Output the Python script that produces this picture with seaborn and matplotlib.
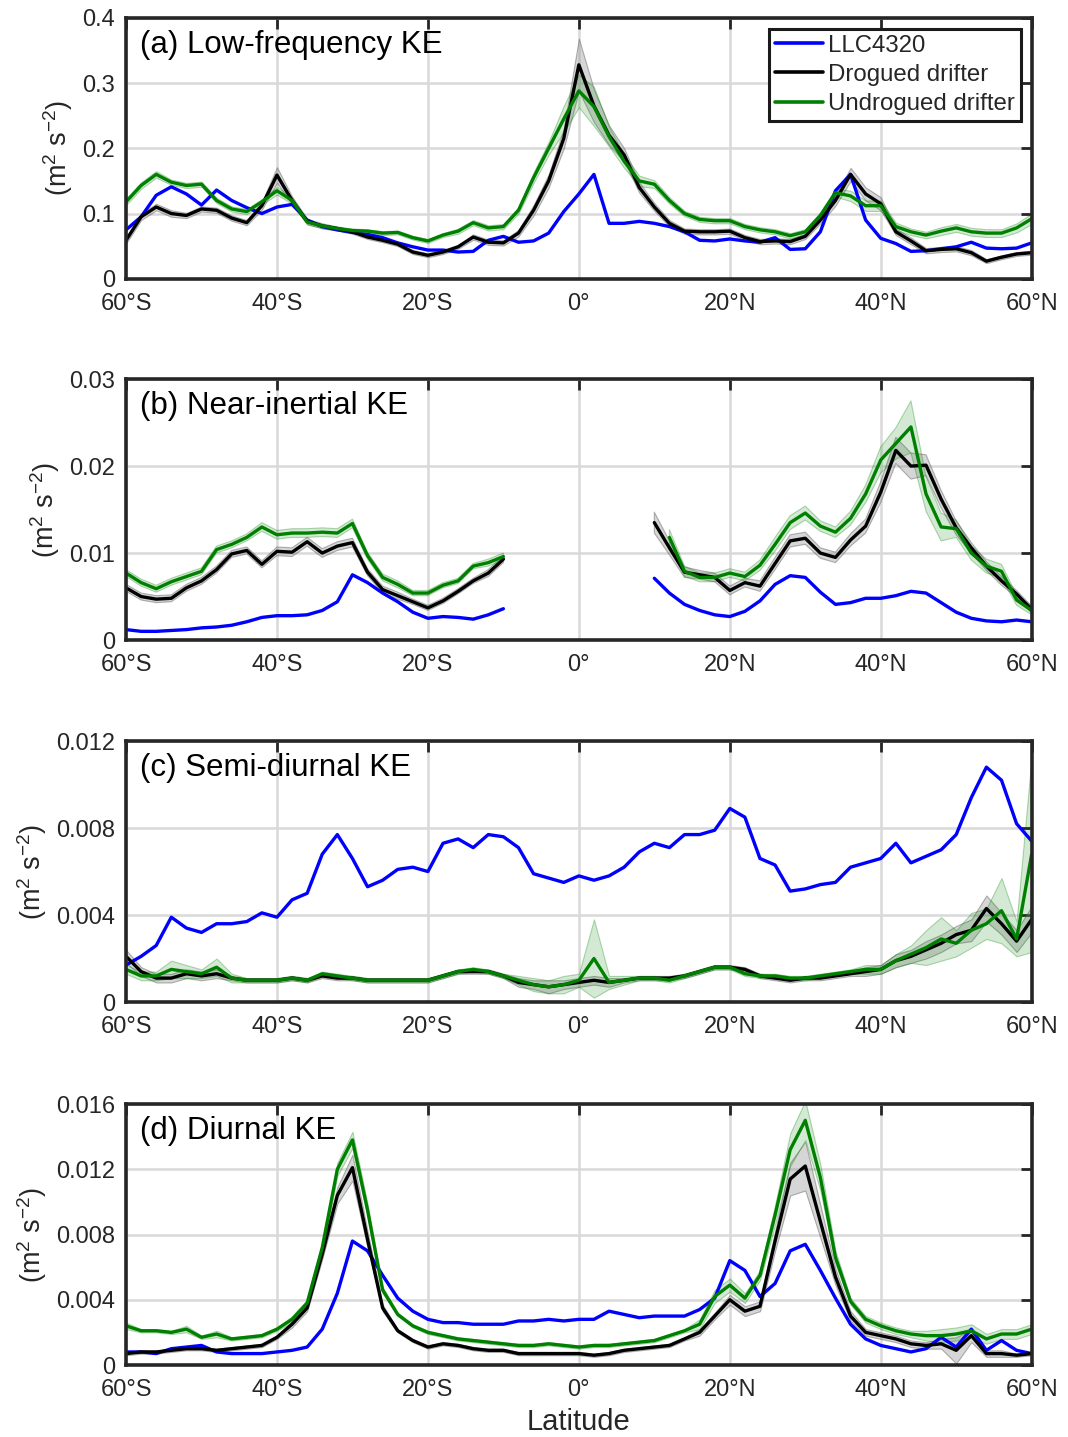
import numpy as np
import pandas as pd
import matplotlib
matplotlib.use('Agg')
import matplotlib.pyplot as plt
import seaborn as sns

nan = np.nan
lat = np.arange(-60, 61, 2)

# (a) low-frequency KE, one value every 2 degrees from 60S to 60N
lf_llc = [0.075, 0.095, 0.128, 0.141, 0.130, 0.113, 0.136, 0.120, 0.109, 0.100,
          0.110, 0.114, 0.090, 0.080, 0.075, 0.071, 0.068, 0.063, 0.055, 0.049,
          0.044, 0.044, 0.041, 0.042, 0.059, 0.065, 0.056, 0.058, 0.070, 0.103,
          0.130, 0.160, 0.085, 0.085, 0.088, 0.085, 0.080, 0.072, 0.059, 0.058,
          0.061, 0.058, 0.056, 0.063, 0.045, 0.046, 0.072, 0.135, 0.160, 0.090,
          0.062, 0.054, 0.042, 0.043, 0.046, 0.049, 0.056, 0.047, 0.046, 0.047,
          0.055]
lf_drog = [0.059, 0.095, 0.110, 0.100, 0.097, 0.107, 0.105, 0.093, 0.086, 0.112,
           0.159, 0.120, 0.088, 0.081, 0.077, 0.072, 0.064, 0.059, 0.053, 0.041,
           0.036, 0.041, 0.049, 0.064, 0.056, 0.055, 0.070, 0.105, 0.150, 0.215,
           0.328, 0.265, 0.220, 0.190, 0.140, 0.110, 0.085, 0.073, 0.072, 0.072,
           0.073, 0.063, 0.057, 0.058, 0.057, 0.065, 0.090, 0.120, 0.160, 0.130,
           0.115, 0.072, 0.058, 0.043, 0.045, 0.046, 0.040, 0.027, 0.033, 0.038,
           0.040]
lf_undrog = [0.118, 0.143, 0.160, 0.148, 0.143, 0.145, 0.120, 0.107, 0.103, 0.118,
             0.135, 0.120, 0.087, 0.081, 0.077, 0.074, 0.073, 0.070, 0.071, 0.063,
             0.058, 0.067, 0.073, 0.086, 0.078, 0.080, 0.105, 0.155, 0.200, 0.245,
             0.288, 0.264, 0.218, 0.180, 0.150, 0.145, 0.120, 0.100, 0.091, 0.089,
             0.089, 0.080, 0.075, 0.072, 0.066, 0.072, 0.097, 0.132, 0.127, 0.112,
             0.112, 0.080, 0.072, 0.067, 0.073, 0.078, 0.072, 0.070, 0.070, 0.078,
             0.092]
lf_drog_err = [0.005, 0.005, 0.005, 0.005, 0.004, 0.004, 0.004, 0.004, 0.004, 0.006,
               0.012, 0.006, 0.004, 0.004, 0.003, 0.003, 0.003, 0.003, 0.003, 0.003,
               0.003, 0.003, 0.003, 0.004, 0.004, 0.004, 0.005, 0.008, 0.010, 0.015,
               0.040, 0.025, 0.015, 0.010, 0.008, 0.006, 0.005, 0.004, 0.004, 0.004,
               0.004, 0.004, 0.004, 0.004, 0.004, 0.004, 0.005, 0.008, 0.010, 0.010,
               0.010, 0.005, 0.005, 0.004, 0.004, 0.004, 0.004, 0.003, 0.003, 0.003,
               0.003]
lf_undrog_err = [0.005, 0.005, 0.005, 0.004, 0.004, 0.004, 0.004, 0.004, 0.004, 0.004,
                 0.006, 0.005, 0.004, 0.003, 0.003, 0.003, 0.003, 0.003, 0.003, 0.003,
                 0.003, 0.003, 0.004, 0.004, 0.004, 0.004, 0.005, 0.008, 0.010, 0.020,
                 0.025, 0.030, 0.015, 0.010, 0.008, 0.006, 0.005, 0.004, 0.004, 0.004,
                 0.004, 0.004, 0.004, 0.004, 0.004, 0.004, 0.005, 0.006, 0.008, 0.008,
                 0.008, 0.006, 0.005, 0.005, 0.006, 0.006, 0.006, 0.006, 0.006, 0.007,
                 0.008]

# (b) near-inertial KE (no values near the equator)
ni_llc = [0.0012, 0.0010, 0.0010, 0.0011, 0.0012, 0.0014, 0.0015, 0.0017, 0.0021, 0.0026,
          0.0028, 0.0028, 0.0029, 0.0034, 0.0044, 0.0075, 0.0066, 0.0054, 0.0044, 0.0032,
          0.0025, 0.0027, 0.0026, 0.0024, 0.0029, 0.0036, nan, nan, nan, nan,
          nan, nan, nan, nan, nan, 0.0071, 0.0054, 0.0041, 0.0034, 0.0029,
          0.0027, 0.0033, 0.0045, 0.0064, 0.0074, 0.0072, 0.0055, 0.0041, 0.0043, 0.0048,
          0.0048, 0.0051, 0.0056, 0.0054, 0.0043, 0.0032, 0.0025, 0.0022, 0.0021, 0.0023,
          0.0021]
ni_drog = [0.0060, 0.0050, 0.0047, 0.0048, 0.0060, 0.0068, 0.0081, 0.0099, 0.0103, 0.0087,
           0.0102, 0.0101, 0.0113, 0.0100, 0.0108, 0.0112, 0.0078, 0.0058, 0.0051, 0.0044,
           0.0037, 0.0045, 0.0056, 0.0068, 0.0077, 0.0093, nan, nan, nan, nan,
           nan, nan, nan, nan, nan, 0.0135, 0.0106, 0.0078, 0.0075, 0.0072,
           0.0057, 0.0066, 0.0062, 0.0088, 0.0114, 0.0117, 0.0100, 0.0095, 0.0115, 0.0131,
           0.0170, 0.0218, 0.0200, 0.0201, 0.0162, 0.0129, 0.0106, 0.0085, 0.0068, 0.0053,
           0.0035]
ni_undrog = [0.0077, 0.0066, 0.0059, 0.0067, 0.0073, 0.0079, 0.0104, 0.0110, 0.0118, 0.0130,
             0.0121, 0.0123, 0.0123, 0.0124, 0.0123, 0.0134, 0.0097, 0.0072, 0.0064, 0.0054,
             0.0054, 0.0063, 0.0068, 0.0085, 0.0089, 0.0096, nan, nan, nan, nan,
             nan, nan, nan, nan, nan, nan, 0.0118, 0.0079, 0.0072, 0.0072,
             0.0077, 0.0073, 0.0086, 0.0110, 0.0135, 0.0146, 0.0131, 0.0124, 0.0140, 0.0168,
             0.0207, 0.0226, 0.0245, 0.0168, 0.0130, 0.0128, 0.0100, 0.0085, 0.0079, 0.0046,
             0.0034]
ni_drog_err = [0.0004, 0.0004, 0.0004, 0.0004, 0.0004, 0.0004, 0.0004, 0.0004, 0.0004, 0.0004,
               0.0005, 0.0005, 0.0005, 0.0005, 0.0005, 0.0005, 0.0004, 0.0004, 0.0004, 0.0003,
               0.0003, 0.0003, 0.0003, 0.0003, 0.0004, 0.0004, nan, nan, nan, nan,
               nan, nan, nan, nan, nan, 0.0012, 0.0008, 0.0006, 0.0005, 0.0005,
               0.0005, 0.0005, 0.0006, 0.0007, 0.0007, 0.0007, 0.0006, 0.0006, 0.0007, 0.0008,
               0.0012, 0.0015, 0.0015, 0.0012, 0.0010, 0.0008, 0.0006, 0.0005, 0.0005, 0.0004,
               0.0004]
ni_undrog_err = [0.0004, 0.0004, 0.0004, 0.0004, 0.0004, 0.0004, 0.0004, 0.0004, 0.0004, 0.0005,
                 0.0005, 0.0005, 0.0005, 0.0005, 0.0005, 0.0005, 0.0004, 0.0004, 0.0004, 0.0003,
                 0.0003, 0.0003, 0.0003, 0.0003, 0.0004, 0.0004, nan, nan, nan, nan,
                 nan, nan, nan, nan, nan, nan, 0.0009, 0.0006, 0.0005, 0.0005,
                 0.0005, 0.0005, 0.0006, 0.0008, 0.0008, 0.0008, 0.0006, 0.0006, 0.0008, 0.0010,
                 0.0015, 0.0018, 0.0030, 0.0020, 0.0016, 0.0010, 0.0008, 0.0008, 0.0008, 0.0006,
                 0.0005]

# (c) semi-diurnal KE
sd_llc = [0.0017, 0.0021, 0.0026, 0.0039, 0.0034, 0.0032, 0.0036, 0.0036, 0.0037, 0.0041,
          0.0039, 0.0047, 0.0050, 0.0068, 0.0077, 0.0066, 0.0053, 0.0056, 0.0061, 0.0062,
          0.0060, 0.0073, 0.0075, 0.0071, 0.0077, 0.0076, 0.0071, 0.0059, 0.0057, 0.0055,
          0.0058, 0.0056, 0.0058, 0.0062, 0.0069, 0.0073, 0.0071, 0.0077, 0.0077, 0.0079,
          0.0089, 0.0085, 0.0066, 0.0063, 0.0051, 0.0052, 0.0054, 0.0055, 0.0062, 0.0064,
          0.0066, 0.0073, 0.0064, 0.0067, 0.0070, 0.0077, 0.0094, 0.0108, 0.0102, 0.0082,
          0.0074]
sd_drog = [0.0021, 0.0014, 0.0011, 0.0011, 0.0013, 0.0012, 0.0013, 0.0011, 0.0010, 0.0010,
           0.0010, 0.0011, 0.0010, 0.0012, 0.0011, 0.0011, 0.0010, 0.0010, 0.0010, 0.0010,
           0.0010, 0.0012, 0.0014, 0.0014, 0.0014, 0.0012, 0.0009, 0.0008, 0.0007, 0.0008,
           0.0009, 0.0010, 0.0009, 0.0010, 0.0011, 0.0011, 0.0011, 0.0012, 0.0014, 0.0016,
           0.0016, 0.0015, 0.0012, 0.0011, 0.0010, 0.0011, 0.0011, 0.0012, 0.0013, 0.0014,
           0.0015, 0.0019, 0.0021, 0.0024, 0.0027, 0.0031, 0.0033, 0.0043, 0.0036, 0.0028,
           0.0038]
sd_undrog = [0.0015, 0.0012, 0.0012, 0.0015, 0.0014, 0.0013, 0.0016, 0.0011, 0.0010, 0.0010,
             0.0010, 0.0011, 0.0010, 0.0013, 0.0012, 0.0011, 0.0010, 0.0010, 0.0010, 0.0010,
             0.0010, 0.0012, 0.0014, 0.0015, 0.0014, 0.0012, 0.0010, 0.0008, 0.0007, 0.0008,
             0.0010, 0.0020, 0.0009, 0.0010, 0.0011, 0.0011, 0.0010, 0.0012, 0.0014, 0.0016,
             0.0016, 0.0013, 0.0012, 0.0012, 0.0011, 0.0011, 0.0012, 0.0013, 0.0014, 0.0015,
             0.0015, 0.0019, 0.0022, 0.0025, 0.0029, 0.0027, 0.0033, 0.0036, 0.0042, 0.0029,
             0.0068]
sd_drog_err = [0.0003, 0.0002, 0.0002, 0.0002, 0.0002, 0.0002, 0.0002, 0.0001, 0.0001, 0.0001,
               0.0001, 0.0001, 0.0001, 0.0001, 0.0001, 0.0001, 0.0001, 0.0001, 0.0001, 0.0001,
               0.0001, 0.0001, 0.0001, 0.0001, 0.0001, 0.0001, 0.0002, 0.0002, 0.0003, 0.0002,
               0.0002, 0.0002, 0.0002, 0.0001, 0.0001, 0.0001, 0.0001, 0.0001, 0.0001, 0.0001,
               0.0001, 0.0001, 0.0001, 0.0001, 0.0001, 0.0001, 0.0001, 0.0001, 0.0001, 0.0002,
               0.0002, 0.0003, 0.0003, 0.0004, 0.0004, 0.0004, 0.0005, 0.0006, 0.0005, 0.0005,
               0.0006]
sd_undrog_err = [0.0002, 0.0002, 0.0002, 0.0004, 0.0003, 0.0002, 0.0004, 0.0002, 0.0001, 0.0001,
                 0.0001, 0.0001, 0.0001, 0.0001, 0.0001, 0.0001, 0.0001, 0.0001, 0.0001, 0.0001,
                 0.0001, 0.0001, 0.0001, 0.0001, 0.0001, 0.0001, 0.0002, 0.0003, 0.0003, 0.0004,
                 0.0003, 0.0018, 0.0003, 0.0002, 0.0001, 0.0001, 0.0001, 0.0001, 0.0001, 0.0001,
                 0.0001, 0.0001, 0.0001, 0.0001, 0.0001, 0.0001, 0.0001, 0.0001, 0.0001, 0.0002,
                 0.0002, 0.0003, 0.0004, 0.0008, 0.0010, 0.0006, 0.0008, 0.0007, 0.0015, 0.0008,
                 0.0045]

# (d) diurnal KE
di_llc = [0.0008, 0.0008, 0.0007, 0.0010, 0.0011, 0.0012, 0.0008, 0.0007, 0.0007, 0.0007,
          0.0008, 0.0009, 0.0011, 0.0022, 0.0044, 0.0076, 0.0070, 0.0055, 0.0041, 0.0033,
          0.0028, 0.0026, 0.0026, 0.0025, 0.0025, 0.0025, 0.0027, 0.0027, 0.0028, 0.0027,
          0.0028, 0.0028, 0.0033, 0.0031, 0.0029, 0.0030, 0.0030, 0.0030, 0.0034, 0.0041,
          0.0064, 0.0058, 0.0042, 0.0050, 0.0070, 0.0074, 0.0058, 0.0041, 0.0025, 0.0016,
          0.0012, 0.0010, 0.0008, 0.0010, 0.0017, 0.0011, 0.0022, 0.0009, 0.0015, 0.0009,
          0.0007]
di_drog = [0.0007, 0.0008, 0.0008, 0.0009, 0.0010, 0.0010, 0.0009, 0.0010, 0.0011, 0.0012,
           0.0017, 0.0025, 0.0035, 0.0068, 0.0104, 0.0121, 0.0077, 0.0035, 0.0021, 0.0015,
           0.0011, 0.0013, 0.0012, 0.0010, 0.0009, 0.0009, 0.0007, 0.0007, 0.0007, 0.0007,
           0.0007, 0.0006, 0.0007, 0.0009, 0.0010, 0.0011, 0.0012, 0.0016, 0.0020, 0.0030,
           0.0040, 0.0033, 0.0036, 0.0076, 0.0114, 0.0122, 0.0088, 0.0054, 0.0030, 0.0020,
           0.0018, 0.0016, 0.0013, 0.0012, 0.0013, 0.0009, 0.0018, 0.0007, 0.0007, 0.0006,
           0.0007]
di_undrog = [0.0024, 0.0021, 0.0021, 0.0020, 0.0022, 0.0017, 0.0019, 0.0016, 0.0017, 0.0018,
             0.0022, 0.0028, 0.0038, 0.0072, 0.0120, 0.0138, 0.0095, 0.0046, 0.0031, 0.0024,
             0.0020, 0.0018, 0.0016, 0.0015, 0.0014, 0.0013, 0.0012, 0.0012, 0.0013, 0.0012,
             0.0011, 0.0012, 0.0012, 0.0013, 0.0014, 0.0015, 0.0018, 0.0021, 0.0025, 0.0042,
             0.0049, 0.0041, 0.0055, 0.0092, 0.0132, 0.0150, 0.0115, 0.0066, 0.0039, 0.0028,
             0.0024, 0.0021, 0.0019, 0.0018, 0.0018, 0.0019, 0.0021, 0.0016, 0.0019, 0.0019,
             0.0022]
di_drog_err = [0.0001, 0.0001, 0.0001, 0.0001, 0.0001, 0.0001, 0.0001, 0.0001, 0.0001, 0.0001,
               0.0001, 0.0002, 0.0002, 0.0003, 0.0005, 0.0008, 0.0005, 0.0002, 0.0001, 0.0001,
               0.0001, 0.0001, 0.0001, 0.0001, 0.0001, 0.0001, 0.0001, 0.0001, 0.0001, 0.0001,
               0.0001, 0.0001, 0.0001, 0.0001, 0.0001, 0.0001, 0.0001, 0.0001, 0.0002, 0.0002,
               0.0003, 0.0003, 0.0003, 0.0006, 0.0010, 0.0015, 0.0010, 0.0005, 0.0003, 0.0002,
               0.0002, 0.0002, 0.0002, 0.0002, 0.0003, 0.0008, 0.0004, 0.0002, 0.0002, 0.0001,
               0.0001]
di_undrog_err = [0.0002, 0.0001, 0.0001, 0.0001, 0.0002, 0.0001, 0.0002, 0.0001, 0.0001, 0.0001,
                 0.0001, 0.0002, 0.0002, 0.0003, 0.0004, 0.0005, 0.0004, 0.0002, 0.0001, 0.0001,
                 0.0001, 0.0001, 0.0001, 0.0001, 0.0001, 0.0001, 0.0001, 0.0001, 0.0001, 0.0001,
                 0.0001, 0.0001, 0.0001, 0.0001, 0.0001, 0.0001, 0.0001, 0.0001, 0.0003, 0.0004,
                 0.0004, 0.0003, 0.0003, 0.0006, 0.0010, 0.0012, 0.0008, 0.0004, 0.0002, 0.0002,
                 0.0002, 0.0002, 0.0002, 0.0003, 0.0004, 0.0004, 0.0004, 0.0003, 0.0003, 0.0003,
                 0.0003]

sources = ['LLC4320', 'Drogued drifter', 'Undrogued drifter']
colors = {'LLC4320': '#0000ff', 'Drogued drifter': '#000000', 'Undrogued drifter': '#008000'}
xticks = [-60, -40, -20, 0, 20, 40, 60]
xticklabels = ['60°S', '40°S', '20°S', '0°', '20°N', '40°N', '60°N']
text_color = '#262626'

sns.set_theme(style='white')
plt.rcParams['font.family'] = ['Liberation Sans', 'DejaVu Sans']
plt.rcParams['mathtext.fontset'] = 'custom'
plt.rcParams['mathtext.rm'] = 'Liberation Sans'
plt.rcParams['mathtext.it'] = 'Liberation Sans'


def make_frame(series):
    frames = []
    for name, vals in zip(sources, series):
        vals = np.asarray(vals, dtype=float)
        seg = np.cumsum(np.isnan(vals))  # split line where data is missing
        frames.append(pd.DataFrame({'lat': lat, 'ke': vals, 'src': name, 'seg': seg}))
    return pd.concat(frames).dropna()


def draw_panel(ax, series, errs, ymax, yticks, yticklabels, title, legend=False):
    drog = np.asarray(series[1], dtype=float)
    undrog = np.asarray(series[2], dtype=float)
    e_d = np.asarray(errs[0], dtype=float)
    e_u = np.asarray(errs[1], dtype=float)
    ax.fill_between(lat, drog - e_d, drog + e_d, facecolor=(0.55, 0.55, 0.55, 0.35),
                    edgecolor=(0.35, 0.35, 0.35, 0.45), lw=0.8, zorder=2)
    ax.fill_between(lat, undrog - e_u, undrog + e_u, facecolor=(0.0, 0.5, 0.0, 0.17),
                    edgecolor=(0.0, 0.5, 0.0, 0.3), lw=0.8, zorder=2)
    df = make_frame(series)
    sns.lineplot(data=df, x='lat', y='ke', hue='src', hue_order=sources, units='seg',
                 estimator=None, palette=colors, lw=2.4, ax=ax, legend=legend, zorder=3)

    ax.set_xlim(-60, 60)
    ax.set_ylim(0, ymax)
    ax.set_xticks(xticks)
    ax.set_xticklabels(xticklabels)
    ax.set_yticks(yticks)
    ax.set_yticklabels(yticklabels)
    ax.grid(True, color='#d9d9d9', lw=1.8, zorder=0)
    ax.set_axisbelow(True)
    ax.tick_params(direction='in', length=8, width=2, top=True, right=True,
                   labelsize=17, colors=text_color)
    ax.tick_params(axis='x', pad=10)
    ax.tick_params(axis='y', pad=8)
    for sp in ax.spines.values():
        sp.set_linewidth(2.6)
        sp.set_color(text_color)
        sp.set_zorder(5)
    ax.set_xlabel('')
    ax.set_ylabel(r'(m$^2$ s$^{-2}$)', fontsize=19.5, color=text_color, labelpad=5)
    ax.text(0.015, 0.895, title, transform=ax.transAxes, fontsize=22.5,
            color='black', va='center', ha='left', zorder=6)

    if legend:
        handles, labels = ax.get_legend_handles_labels()
        leg = ax.legend(handles, labels, loc='upper right', fontsize=17.3,
                        frameon=True, fancybox=False, framealpha=1,
                        edgecolor='#1a1a1a', handlelength=2.0, handletextpad=0.2,
                        borderpad=0.25, labelspacing=0.3, borderaxespad=0.45)
        leg.get_frame().set_linewidth(2.2)
        leg.set_zorder(7)
        for line in leg.get_lines():
            line.set_linewidth(2.6)


fig = plt.figure(figsize=(10.68, 14.37), dpi=100)
left, width, height = 0.118, 0.848, 0.1816
bottoms = [0.806, 0.5546, 0.3027, 0.0501]
axes = [fig.add_axes([left, b, width, height]) for b in bottoms]

draw_panel(axes[0], [lf_llc, lf_drog, lf_undrog], [lf_drog_err, lf_undrog_err],
           0.4, [0, 0.1, 0.2, 0.3, 0.4], ['0', '0.1', '0.2', '0.3', '0.4'],
           '(a) Low-frequency KE', legend=True)
draw_panel(axes[1], [ni_llc, ni_drog, ni_undrog], [ni_drog_err, ni_undrog_err],
           0.03, [0, 0.01, 0.02, 0.03], ['0', '0.01', '0.02', '0.03'],
           '(b) Near-inertial KE')
draw_panel(axes[2], [sd_llc, sd_drog, sd_undrog], [sd_drog_err, sd_undrog_err],
           0.012, [0, 0.004, 0.008, 0.012], ['0', '0.004', '0.008', '0.012'],
           '(c) Semi-diurnal KE')
draw_panel(axes[3], [di_llc, di_drog, di_undrog], [di_drog_err, di_undrog_err],
           0.016, [0, 0.004, 0.008, 0.012, 0.016], ['0', '0.004', '0.008', '0.012', '0.016'],
           '(d) Diurnal KE')
axes[3].set_xlabel('Latitude', fontsize=21, color=text_color, labelpad=5)

fig.savefig('out.png', dpi=100, facecolor='white')
